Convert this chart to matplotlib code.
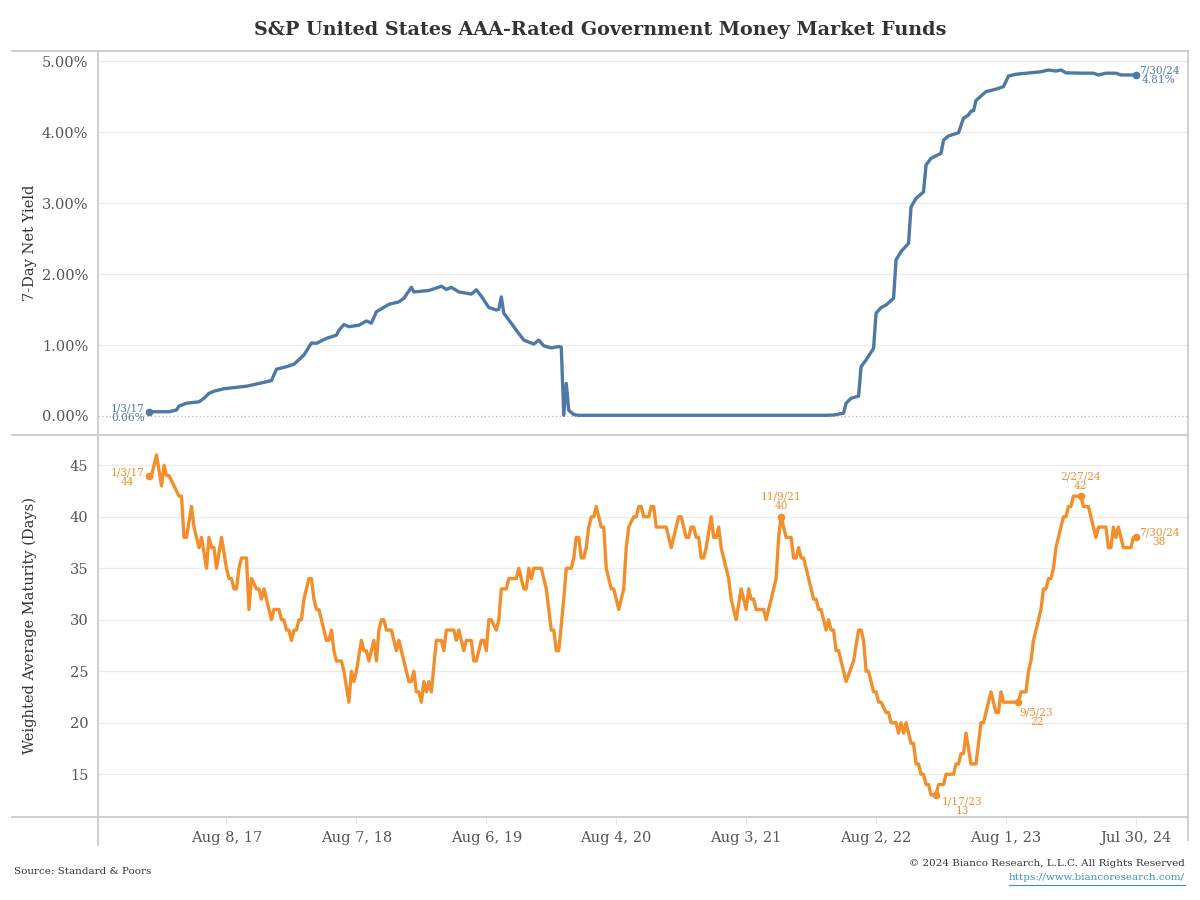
import matplotlib
matplotlib.use('Agg')
import matplotlib.pyplot as plt
import numpy as np
import pandas as pd
from matplotlib.lines import Line2D

plt.rcParams['font.family'] = ['DejaVu Serif']

start_date = pd.Timestamp('2017-01-03')

# 7-Day Net Yield (%), vertices: weeks after 1/3/17
yield_week = [0, 8, 11, 12, 15, 20, 22, 24, 26, 30, 39, 46, 49, 51, 55, 58, 62, 65, 67, 71, 75, 76, 78, 80, 84,
              87, 89, 91, 96, 100, 102, 105, 106, 112, 117, 119, 121, 124, 129, 131, 133, 136, 139, 140, 141,
              142, 146, 147, 150, 154, 156, 158, 161, 164, 165, 166, 167, 168, 170, 172, 271, 274, 278, 279,
              281, 284, 285, 287, 290, 291, 293, 295, 298, 299, 301, 304, 305, 307, 310, 311, 313, 317, 318,
              320, 324, 326, 328, 329, 330, 331, 335, 339, 342, 344, 347, 357, 360, 363, 365, 367, 374, 378,
              380, 383, 387, 389, 395]
yield_pct = [0.06, 0.06, 0.085, 0.14, 0.18, 0.20, 0.25, 0.32, 0.35, 0.385, 0.42, 0.475, 0.50, 0.66, 0.695, 0.73,
             0.86, 1.03, 1.025, 1.095, 1.14, 1.21, 1.29, 1.26, 1.28, 1.34, 1.31, 1.47, 1.575, 1.61, 1.66, 1.815,
             1.75, 1.77, 1.83, 1.785, 1.815, 1.75, 1.72, 1.78, 1.69, 1.53, 1.495, 1.505, 1.68, 1.45, 1.26, 1.21,
             1.07, 1.015, 1.07, 0.99, 0.96, 0.98, 0.97, 0.01, 0.46, 0.08, 0.02, 0.01, 0.01, 0.014, 0.04, 0.18,
             0.25, 0.28, 0.695, 0.79, 0.955, 1.45, 1.53, 1.565, 1.66, 2.20, 2.32, 2.435, 2.95, 3.07, 3.16, 3.54,
             3.635, 3.705, 3.89, 3.95, 3.995, 4.20, 4.245, 4.30, 4.305, 4.45, 4.575, 4.61, 4.645, 4.795, 4.82,
             4.855, 4.88, 4.865, 4.88, 4.84, 4.835, 4.835, 4.81, 4.835, 4.835, 4.81, 4.81]

# Weighted Average Maturity (days), vertices: weeks after 1/3/17
wam_week = [0, 1, 3, 5, 6, 7, 8, 10, 12, 13, 14, 15, 17, 18, 20, 21, 23, 24, 25, 26, 27, 29, 31, 32, 33, 34, 35,
            36, 37, 39, 40, 41, 43, 44, 45, 46, 49, 50, 52, 53, 54, 55, 56, 57, 58, 59, 60, 61, 62, 64, 65, 66,
            67, 68, 71, 72, 73, 74, 75, 77, 78, 80, 81, 82, 83, 85, 86, 87, 88, 90, 91, 92, 93, 94, 95, 97, 99,
            100, 104, 105, 106, 107, 108, 109, 110, 111, 112, 113, 115, 117, 118, 119, 122, 123, 124, 126, 127,
            129, 130, 131, 133, 134, 135, 136, 137, 139, 140, 141, 143, 144, 147, 148, 150, 151, 152, 153, 154,
            157, 159, 161, 162, 163, 164, 166, 167, 169, 170, 171, 172, 173, 174, 175, 176, 177, 178, 179, 181,
            182, 183, 185, 186, 188, 190, 191, 192, 194, 195, 196, 197, 198, 200, 201, 202, 203, 207, 209, 211,
            212, 213, 215, 216, 217, 218, 219, 220, 221, 222, 223, 225, 226, 227, 228, 229, 232, 233, 235, 237,
            239, 240, 241, 242, 243, 246, 247, 249, 251, 252, 253, 255, 257, 258, 259, 260, 261, 262, 264, 266,
            267, 268, 269, 271, 272, 273, 274, 275, 276, 279, 282, 284, 285, 286, 287, 288, 290, 291, 292, 293,
            295, 296, 297, 299, 300, 301, 302, 303, 305, 306, 307, 308, 309, 310, 311, 312, 313, 315, 316, 318,
            319, 322, 323, 324, 325, 326, 327, 329, 331, 333, 334, 337, 339, 340, 341, 342, 348, 349, 351, 352,
            353, 354, 356, 357, 358, 359, 360, 361, 362, 363, 365, 366, 367, 368, 369, 370, 373, 374, 376, 379,
            380, 383, 384, 385, 386, 387, 388, 390, 393, 394, 395]
wam_days = [44, 44, 46, 43, 45, 44, 44, 43, 42, 42, 38, 38, 41, 39, 37, 38, 35, 38, 37, 37, 35, 38, 35, 34, 34, 33,
            33, 35, 36, 36, 31, 34, 33, 33, 32, 33, 30, 31, 31, 30, 30, 29, 29, 28, 29, 29, 30, 30, 32, 34, 34, 32,
            31, 31, 28, 28, 29, 27, 26, 26, 25, 22, 25, 24, 25, 28, 27, 27, 26, 28, 26, 29, 30, 30, 29, 29, 27,
            28, 24, 24, 25, 23, 23, 22, 24, 23, 24, 23, 28, 28, 27, 29, 29, 28, 29, 27, 28, 28, 26, 26, 28, 28,
            27, 30, 30, 29, 30, 33, 33, 34, 34, 35, 33, 33, 35, 34, 35, 35, 33, 29, 29, 27, 27, 32, 35, 35, 36,
            38, 38, 36, 36, 37, 39, 40, 40, 41, 39, 39, 35, 33, 33, 31, 33, 37, 39, 40, 40, 41, 41, 40, 40, 41,
            41, 39, 39, 37, 39, 40, 40, 38, 38, 39, 39, 38, 38, 36, 36, 37, 40, 38, 38, 39, 37, 34, 32, 30, 33,
            31, 33, 32, 32, 31, 31, 30, 32, 34, 38, 40, 38, 38, 36, 36, 37, 36, 36, 34, 32, 32, 31, 31, 29, 30,
            29, 29, 27, 27, 24, 26, 29, 29, 28, 25, 25, 23, 23, 22, 22, 21, 21, 20, 20, 19, 20, 19, 20, 18, 18,
            16, 16, 15, 15, 14, 14, 13, 13, 14, 14, 15, 15, 16, 16, 17, 17, 19, 16, 16, 20, 20, 23, 21, 21, 23,
            22, 22, 23, 23, 25, 26, 28, 30, 31, 33, 33, 34, 34, 35, 37, 39, 40, 40, 41, 41, 42, 42, 41, 41, 38,
            39, 39, 37, 37, 39, 38, 39, 37, 37, 38, 38]

tick_dates = ['2017-08-08', '2018-08-07', '2019-08-06', '2020-08-04', '2021-08-03', '2022-08-02',
              '2023-08-01', '2024-07-30']
tick_labels = ['Aug 8, 17', 'Aug 7, 18', 'Aug 6, 19', 'Aug 4, 20', 'Aug 3, 21', 'Aug 2, 22',
               'Aug 1, 23', 'Jul 30, 24']
yield_ticks = [0, 1, 2, 3, 4, 5]
wam_ticks = [15, 20, 25, 30, 35, 40, 45]

yield_note_dates = ['2017-01-03', '2024-07-30']
yield_note_vals = [0.06, 4.81]
wam_note_dates = ['2017-01-03', '2021-11-09', '2023-01-17', '2023-09-05', '2024-02-27', '2024-07-30']
wam_note_vals = [44, 40, 13, 22, 42, 38]

BLUE = '#4e79a7'
ORANGE = '#f28e2b'
GRID = '#ececec'
FRAME = '#c8c8c8'
TXT = '#555555'

def to_dates(weeks):
    return start_date + pd.to_timedelta(np.array(weeks) * 7, unit='D')

yd = to_dates(yield_week)
wd = to_dates(wam_week)

fig = plt.figure(figsize=(12, 9), dpi=100)
W, H = 1200.0, 900.0
L, R = 98 / W, 1188 / W
ax1 = fig.add_axes([L, 1 - 435 / H, R - L, 384 / H])
ax2 = fig.add_axes([L, 1 - 817 / H, R - L, 382 / H], sharex=ax1)

xlim = (start_date - pd.Timedelta(days=143), start_date + pd.Timedelta(days=2911))

for ax in (ax1, ax2):
    for s in ax.spines.values():
        s.set_visible(False)
    ax.set_xlim(*xlim)
    ax.tick_params(axis='y', length=0, pad=7, labelsize=10.5, labelcolor=TXT)

# top panel
ax1.set_ylim(-0.268, 5.148)
ax1.set_yticks(yield_ticks)
ax1.set_yticklabels([f'{v:.2f}%' for v in yield_ticks])
for v in yield_ticks[1:]:
    ax1.axhline(v, color=GRID, lw=1, zorder=0)
ax1.axhline(0, color='#bbbbbb', lw=0.9, ls=(0, (1, 2)), zorder=0)
ax1.plot(yd, yield_pct, color=BLUE, lw=2.4, solid_joinstyle='round', zorder=3)
ax1.tick_params(axis='x', bottom=False, labelbottom=False)
ax1.set_ylabel('7-Day Net Yield', fontsize=10.5, color='#333333')
ax1.yaxis.set_label_coords(-0.056, 0.5)

nd = pd.to_datetime(yield_note_dates)
ax1.plot(nd, yield_note_vals, 'o', color=BLUE, ms=4.5, zorder=4)
ax1.annotate(f"1/3/17\n{yield_note_vals[0]:.2f}%", (nd[0], yield_note_vals[0]), xytext=(-3, -1),
             textcoords='offset points', ha='right', va='center', ma='center', fontsize=7.6, color=BLUE,
             linespacing=0.95)
ax1.annotate(f"7/30/24\n{yield_note_vals[1]:.2f}%", (nd[1], yield_note_vals[1]), xytext=(2, 0),
             textcoords='offset points', ha='left', va='center', ma='center', fontsize=7.6, color=BLUE,
             linespacing=0.95)

# bottom panel
ax2.set_ylim(10.85, 47.94)
ax2.set_yticks(wam_ticks)
ax2.set_yticklabels([str(v) for v in wam_ticks])
for v in wam_ticks:
    ax2.axhline(v, color=GRID, lw=1, zorder=0)
ax2.plot(wd, wam_days, color=ORANGE, lw=2.4, solid_joinstyle='round', zorder=3)
ax2.set_ylabel('Weighted Average Maturity (Days)', fontsize=10.5, color='#333333')
ax2.yaxis.set_label_coords(-0.056, 0.5)

ax2.set_xticks(pd.to_datetime(tick_dates))
ax2.set_xticklabels(tick_labels)
ax2.tick_params(axis='x', length=5, color='#e4e4e4', labelsize=10.5, labelcolor=TXT, pad=5)

wnd = pd.to_datetime(wam_note_dates)
ax2.plot(wnd, wam_note_vals, 'o', color=ORANGE, ms=4.5, zorder=4)
note_fmt = ['1/3/17', '11/9/21', '1/17/23', '9/5/23', '2/27/24', '7/30/24']
offsets = [(-3, -1, 'right', 'center'), (0, 4, 'center', 'bottom'), (4, -1, 'left', 'top'),
           (13, -4, 'center', 'top'), (0, 4, 'center', 'bottom'), (2, 0, 'left', 'center')]
for lab, d, v, (dx, dy, ha, va) in zip(note_fmt, wnd, wam_note_vals, offsets):
    ax2.annotate(f"{lab}\n{v}", (d, v), xytext=(dx, dy), textcoords='offset points', ha=ha, va=va,
                 ma='center', fontsize=7.6, color=ORANGE, linespacing=0.95)

# frame lines
def hline(y, x0=12, x1=1188):
    fig.add_artist(Line2D([x0 / W, x1 / W], [1 - y / H, 1 - y / H], color=FRAME, lw=1.2))
def vline(x, y0, y1):
    fig.add_artist(Line2D([x / W, x / W], [1 - y0 / H, 1 - y1 / H], color=FRAME, lw=1.2))
hline(51)
hline(435)
hline(817)
vline(98, 51, 845)
vline(1188, 51, 840)

fig.text(0.5, 1 - 30 / H, 'S&P United States AAA-Rated Government Money Market Funds', ha='center',
         va='center', fontsize=13.8, fontweight='bold', color='#333333')
fig.text(14 / W, 1 - 871 / H, 'Source: Standard & Poors', ha='left', va='center', fontsize=7.5, color='#333333')
fig.text(1185 / W, 1 - 863 / H, '© 2024 Bianco Research, L.L.C. All Rights Reserved', ha='right', va='center',
         fontsize=7.5, color='#333333')
fig.text(1185 / W, 1 - 878 / H, 'https://www.biancoresearch.com/', ha='right', va='center', fontsize=7.5,
         color='#3f8fc5')
fig.add_artist(Line2D([1009 / W, 1185 / W], [1 - 885 / H, 1 - 885 / H], color='#3f8fc5', lw=0.8))

fig.savefig('out.png', dpi=100)
